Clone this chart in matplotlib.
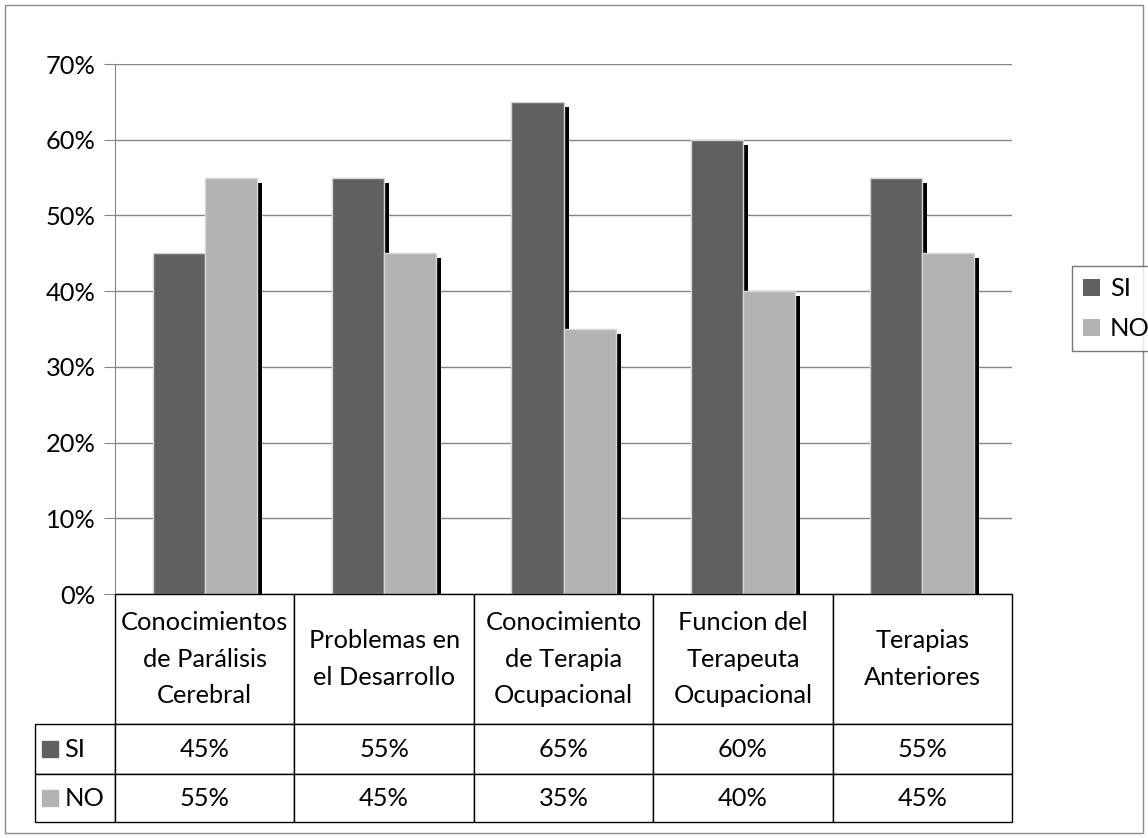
import matplotlib
matplotlib.use("Agg")
import matplotlib.pyplot as plt
import matplotlib.patheffects as pe
from matplotlib.patches import Patch, Rectangle
import numpy as np

categories = ["Conocimientos\nde Parálisis\nCerebral", "Problemas en\nel Desarrollo",
              "Conocimiento\nde Terapia\nOcupacional", "Funcion del\nTerapeuta\nOcupacional",
              "Terapias\nAnteriores"]
series_names = ["SI", "NO"]
si_values = [45, 55, 65, 60, 55]
no_values = [55, 45, 35, 40, 45]
y_ticks = [0, 10, 20, 30, 40, 50, 60, 70]

colors = ["#606060", "#b3b3b3"]
FS = 18.3
plt.rcParams['font.family'] = ['Lato', 'DejaVu Sans']

W, H = 1148, 838
fig = plt.figure(figsize=(W / 100, H / 100), dpi=100)
ax = fig.add_axes([115 / W, (H - 594) / H, (1012 - 115) / W, (594 - 64) / H])

x = np.arange(len(categories)) + 0.5
bw = 0.29
shadow = [pe.SimplePatchShadow(offset=(3.6, -3.6), shadow_rgbFace='black', alpha=1.0), pe.Normal()]
for vals, off, col, name in [(si_values, -bw / 2, colors[0], "SI"), (no_values, bw / 2, colors[1], "NO")]:
    bars = ax.bar(x + off, vals, width=bw, color=col, edgecolor='#d6d6d6', linewidth=1, zorder=3, label=name)
    for b in bars:
        b.set_path_effects(shadow)

ax.set_xlim(0, len(categories))
ax.set_ylim(0, 70)
ax.set_yticks(y_ticks)
ax.set_yticklabels([f"{t}%" for t in y_ticks], fontsize=FS)
ax.yaxis.grid(True, color='#868686', linewidth=1)
ax.set_axisbelow(True)
ax.set_xticks([])
for s in ['top', 'right', 'bottom']:
    ax.spines[s].set_visible(False)
ax.spines['left'].set_color('#868686')
ax.tick_params(axis='y', length=8, color='#868686', pad=6)

cell_text = [[f"{v}%" for v in si_values], [f"{v}%" for v in no_values]]
tb_h = (822 - 594) / (594 - 64)
tbl = ax.table(cellText=cell_text, rowLabels=series_names, colLabels=categories,
               cellLoc='center', rowLoc='left', colLoc='center',
               bbox=[0, -tb_h, 1, tb_h])
tbl._autoColumns = [c for c in tbl._autoColumns if c != -1]
tbl.auto_set_font_size(False)
tbl.set_fontsize(FS)
tbl.set_zorder(5)
heights = {0: 130, 1: 50, 2: 48}
for (r, c), cell in tbl.get_celld().items():
    cell.set_height(heights[r])
    cell.set_edgecolor('black')
    cell.set_linewidth(1)
    cell.get_text().set_fontsize(FS)
    if c == -1:
        cell.PAD = 0.37
        cell.set_width(80)
    else:
        cell.set_width(179.4)
    if r == 0:
        cell.get_text().set_linespacing(1.72)

# two draws so the table settles into its final (scaled) layout
fig.canvas.draw()
fig.canvas.draw()
for r, name, col in [(1, "SI", colors[0]), (2, "NO", colors[1])]:
    cell = tbl[r, -1]
    cx = cell.get_x() + cell.get_width() * 0.19
    cy = cell.get_y() + cell.get_height() * 0.5
    ax.plot([cx], [cy], marker='s', markersize=11, color=col, linestyle='none',
            transform=ax.transAxes, clip_on=False, zorder=30)

handles = [Patch(facecolor=colors[0], edgecolor='none', label="SI"),
           Patch(facecolor=colors[1], edgecolor='none', label="NO")]
leg = fig.legend(handles=handles, loc='upper left', bbox_to_anchor=(1072 / W, 1 - 266 / H),
                 fontsize=FS, frameon=True, fancybox=False, handlelength=0.65, handleheight=0.65,
                 handletextpad=0.4, borderpad=0.45, labelspacing=0.65, borderaxespad=0)
leg.get_frame().set_edgecolor('#555555')
leg.get_frame().set_linewidth(1)

fig.patches.append(Rectangle((5 / W, 5 / H), (1143 - 5) / W, (833 - 5) / H, transform=fig.transFigure,
                             fill=False, edgecolor='#8a8a8a', linewidth=1))

fig.savefig("out.png", dpi=100)
